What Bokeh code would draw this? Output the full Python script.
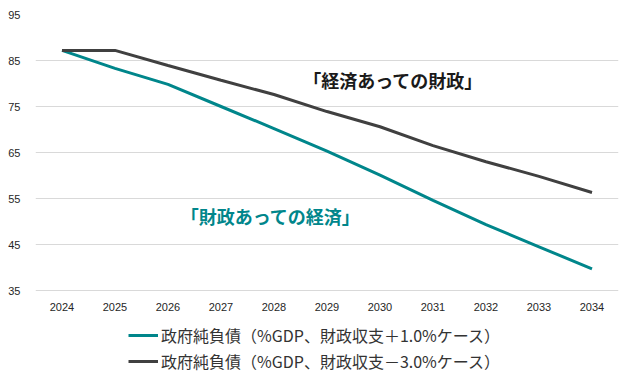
from bokeh.plotting import figure
from bokeh.models import Legend, LegendItem, Label
from bokeh.embed import file_html
from bokeh.resources import INLINE

years = ["2024", "2025", "2026", "2027", "2028", "2029", "2030", "2031", "2032", "2033", "2034"]
surplus_case = [87.2, 83.3, 79.8, 75.0, 70.2, 65.3, 60.1, 54.6, 49.3, 44.5, 39.7]
deficit_case = [87.2, 87.2, 83.9, 80.7, 77.6, 73.9, 70.6, 66.5, 63.0, 59.8, 56.3]
label_surplus = "政府純負債（%GDP、財政収支＋1.0%ケース）"
label_deficit = "政府純負債（%GDP、財政収支－3.0%ケース）"
note_deficit = "「経済あっての財政」"
note_surplus = "「財政あっての経済」"
y_ticks = [35, 45, 55, 65, 75, 85, 95]
y_axis_min = 35
y_axis_max = 95

TEAL = "#00868B"
DARK = "#404040"
JP = "Noto Sans CJK JP"

# frame extends below the value axis to host the legend area
p = figure(x_range=years, y_range=(15.87, y_axis_max), frame_width=583, frame_height=364,
           output_backend="svg", toolbar_location=None,
           min_border_left=35, min_border_right=7, min_border_top=14, min_border_bottom=0)
p.outline_line_color = None
p.xgrid.grid_line_color = None
p.ygrid.grid_line_color = "#D9D9D9"
p.ygrid.grid_line_width = 1
p.yaxis.ticker = y_ticks
p.yaxis.axis_line_color = None
p.yaxis.major_tick_line_color = None
p.yaxis.minor_tick_line_color = None
p.yaxis.major_label_text_font = "Liberation Sans"
p.yaxis.major_label_text_font_size = "11px"
p.yaxis.major_label_text_color = "#262626"
p.yaxis.major_label_standoff = 9
p.xaxis.fixed_location = y_axis_min
p.xaxis.axis_line_color = None
p.xaxis.major_tick_line_color = None
p.xaxis.major_label_text_font = "Liberation Sans"
p.xaxis.major_label_text_font_size = "11px"
p.xaxis.major_label_text_color = "#262626"
p.xaxis.major_label_standoff = 6

r1 = p.line(years, surplus_case, line_color=TEAL, line_width=3)
r2 = p.line(years, deficit_case, line_color=DARK, line_width=3)

p.add_layout(Label(x=5.05, y=80.7, text=note_deficit, text_font=JP, text_font_size="18px",
                   text_font_style="bold", text_color="#1a1a1a", text_baseline="middle"))
p.add_layout(Label(x=2.74, y=51.3, text=note_surplus, text_font=JP, text_font_size="18px",
                   text_font_style="bold", text_color=TEAL, text_baseline="middle"))

legend = Legend(items=[LegendItem(label=label_surplus, renderers=[r1]),
                       LegendItem(label=label_deficit, renderers=[r2])],
                location=(93, 5), orientation="vertical",
                label_text_font=JP, label_text_font_size="16px", label_text_color="#333333",
                glyph_width=30, glyph_height=20, label_height=20, label_standoff=3,
                spacing=2, padding=2, margin=0,
                border_line_color=None, background_fill_alpha=0)
p.add_layout(legend)

open("out.html", "w").write(file_html(p, INLINE))
